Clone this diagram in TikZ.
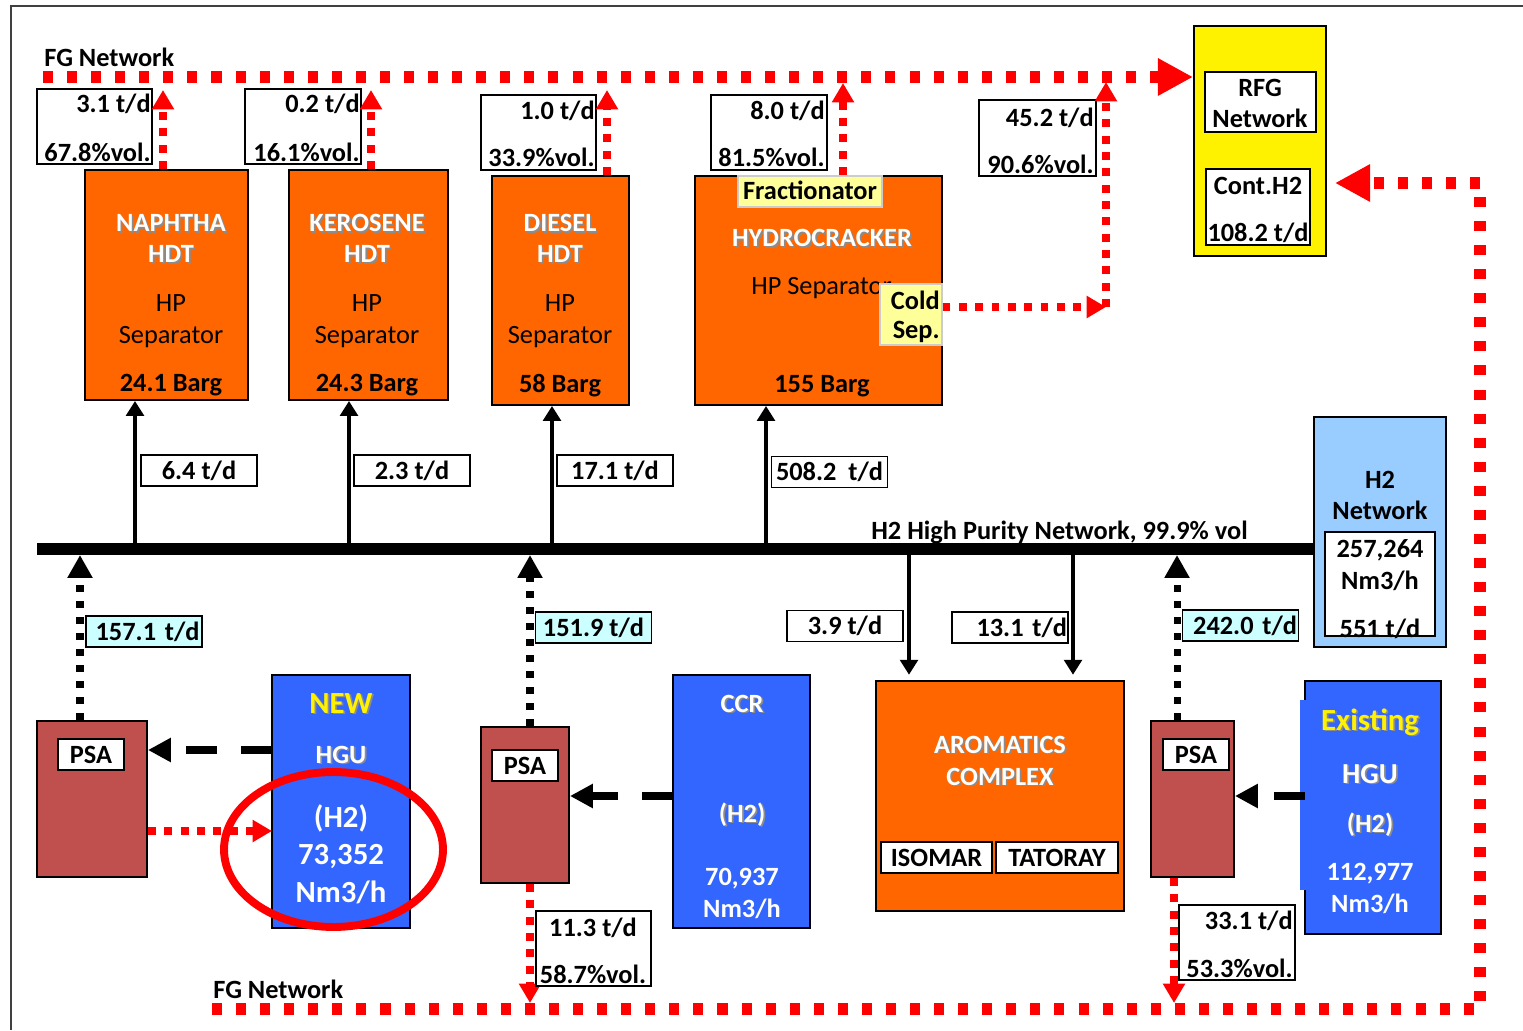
\documentclass[tikz,border=0pt]{standalone}
\usepackage{fontspec}
\setmainfont{Carlito}
\usepackage{tikz}
\usetikzlibrary{arrows.meta, positioning, fit, calc, shapes.geometric}

\definecolor{hdtorange}{HTML}{FF6600}
\definecolor{psabrown}{HTML}{C0504D}
\definecolor{hgublue}{HTML}{3366FF}
\definecolor{netblue}{HTML}{99CCFF}
\definecolor{flowcyan}{HTML}{CCFFFF}
\definecolor{paleyellow}{HTML}{FFFF99}

\newcommand{\shtext}[1]{\makebox[0pt][l]{\kern1pt\raisebox{-1pt}{\textcolor{black!45}{#1}}}#1}

\begin{document}
\begin{tikzpicture}[x=0.02cm, y=-0.02cm,
  every node/.style={font=\fontsize{15}{18}\selectfont\bfseries, inner sep=0pt},
  framebox/.style={rectangle, draw, line width=1.1pt},
  unitbox/.style={framebox, fill=hdtorange},
  psabox/.style={framebox, fill=psabrown},
  hgubox/.style={framebox, fill=hgublue},
  tagbox/.style={framebox, fill=white},
  notebox/.style={rectangle, draw=black!20, line width=0.6pt, fill=paleyellow},
  ratebox/.style={tagbox, minimum width=2.32cm, minimum height=0.62cm},
  cyanbox/.style={ratebox, fill=flowcyan},
  btxt/.style={anchor=base},
  wtxt/.style={anchor=base, text=white},
  ntxt/.style={anchor=base, font=\fontsize{15}{18}\selectfont},
  bigtxt/.style={anchor=base, text=white, font=\fontsize{17.5}{21}\selectfont\bfseries},
  busline/.style={line width=6.8pt},
  h2feed/.style={line width=2.8pt, -{Triangle[length=8.5pt,width=10pt]}},
  psaout/.style={line width=4pt, dash pattern=on 4pt off 5.1pt, -{Triangle[length=13pt,width=13.5pt]}},
  hgufeed/.style={line width=4pt, dash pattern=on 17.6pt off 13.7pt, -{Triangle[length=13pt,width=13pt]}},
  fgmain/.style={red, line width=6.3pt, dash pattern=on 5.7pt off 8pt, -{Triangle[length=20pt,width=20pt]}},
  fgarrow/.style={red, line width=4.3pt, dash pattern=on 4.5pt off 4.8pt, -{Triangle[length=11pt,width=12pt]}},
]
  \useasboundingbox (0,0) rectangle (1523,1030);
  \draw[line width=0.9pt, black!75] (11,1030) -- (11,6) -- (1523,6);

  % units on the H2 network
  \node[unitbox, fit={(85,170) (248,400)}] (nap) {};
  \node[unitbox, fit={(289,170) (448,400)}] (ker) {};
  \node[unitbox, fit={(492,176) (629,405)}] (die) {};
  \node[unitbox, fit={(695,176) (942,405)}] (hcr) {};

  \node[wtxt] (napA) at (171,232) {\shtext{NAPHTHA}};
  \node[wtxt] (napB) at (171,263) {\shtext{HDT}};
  \node[ntxt] (napC) at (171,312) {HP};
  \node[ntxt] (napD) at (171,343) {Separator};
  \node[btxt] (napE) at (171,391) {24.1 Barg};

  \node[wtxt] (kerA) at (367,232) {\shtext{KEROSENE}};
  \node[wtxt] (kerB) at (367,263) {\shtext{HDT}};
  \node[ntxt] (kerC) at (367,312) {HP};
  \node[ntxt] (kerD) at (367,343) {Separator};
  \node[btxt] (kerE) at (367,391) {24.3 Barg};

  \node[wtxt] (dieA) at (560,232) {\shtext{DIESEL}};
  \node[wtxt] (dieB) at (560,263) {\shtext{HDT}};
  \node[ntxt] (dieC) at (560,312) {HP};
  \node[ntxt] (dieD) at (560,343) {Separator};
  \node[btxt] (dieE) at (560,392) {58 Barg};

  \node[notebox, fit={(738,176) (882,207)}] (frac) {};
  \node[btxt] (fracT) at (810,200) {Fractionator};
  \node[wtxt] (hcrA) at (822,247) {\shtext{HYDROCRACKER}};
  \node[ntxt, anchor=base west] (hcrB) at (751,295) {HP Separator};
  \node[btxt] (hcrE) at (822,392) {155 Barg};
  \node[notebox, fit={(880,284) (942,345)}] (cold) {};
  \node[btxt, anchor=base east] (coldA) at (940,310) {Cold};
  \node[btxt, anchor=base east] (coldB) at (940,338) {Sep.};

  % off-gas tags
  \node[tagbox, fit={(37,89) (152,164)}] (napR) {};
  \node[btxt, anchor=base east] (napR1) at (151,113) {3.1 t/d};
  \node[btxt, anchor=base east] (napR2) at (151,162) {67.8\%vol.};
  \node[tagbox, fit={(245,89) (361,164)}] (kerR) {};
  \node[btxt, anchor=base east] (kerR1) at (360,113) {0.2 t/d};
  \node[btxt, anchor=base east] (kerR2) at (360,162) {16.1\%vol.};
  \node[tagbox, fit={(481,95) (596,170)}] (dieR) {};
  \node[btxt, anchor=base east] (dieR1) at (595,120) {1.0 t/d};
  \node[btxt, anchor=base east] (dieR2) at (595,167) {33.9\%vol.};
  \node[tagbox, fit={(711,95) (827,170)}] (hcrR) {};
  \node[btxt, anchor=base east] (hcrR1) at (825,120) {8.0 t/d};
  \node[btxt, anchor=base east] (hcrR2) at (825,167) {81.5\%vol.};
  \node[tagbox, fit={(979,100) (1096,176)}] (coldR) {};
  \node[btxt, anchor=base east] (coldR1) at (1094,127) {45.2 t/d};
  \node[btxt, anchor=base east] (coldR2) at (1094,174) {90.6\%vol.};

  % RFG
  \node[framebox, fill=yellow, fit={(1194,26) (1326,256)}] (rfg) {};
  \node[tagbox, fit={(1205,72) (1316,132)}] (rfgnet) {};
  \node[btxt] (rfgA) at (1260,97) {RFG};
  \node[btxt] (rfgB) at (1260,128) {Network};
  \node[tagbox, fit={(1206,169) (1310,245)}] (conth2) {};
  \node[btxt] (contA) at (1258,195) {Cont.H2};
  \node[btxt] (contB) at (1258,242) {108.2 t/d};

  % FG network
  \node[btxt, anchor=base west] (fgtopT) at (44,67) {FG Network};
  \node[btxt, anchor=base west] (fgbotT) at (213,998) {FG Network};
  \coordinate (fgtop) at (43,77);
  \coordinate (fgbot) at (212,1009);
  \coordinate (fgBR) at (1480,1009);
  \coordinate (fgTR) at (1480,183);
  \draw[fgmain] (fgtop) -- (rfg.west |- fgtop);
  \draw[fgmain] (fgbot) -- (fgBR) -- (fgTR) -- ([xshift=0.16cm]rfg.east |- fgTR);

  \coordinate (fgN) at (163,90);
  \coordinate (fgK) at (371,90);
  \coordinate (fgD) at (607,90);
  \coordinate (fgH) at (843,83);
  \coordinate (fgC) at (1106,82);
  \coordinate (coldj) at (1106,307);
  \draw[fgarrow] (nap.north -| fgN) -- (fgN);
  \draw[fgarrow] (ker.north -| fgK) -- (fgK);
  \draw[fgarrow] (die.north -| fgD) -- (fgD);
  \draw[fgarrow] (hcr.north -| fgH) -- (fgH);
  \draw[fgarrow] (cold.east |- coldj) -- (coldj);
  \draw[fgarrow] (coldj) -- (fgC);

  % H2 high purity network
  \node[framebox, fill=netblue, fit={(1314,417) (1446,647)}] (h2net) {};
  \node[btxt] (h2netA) at (1380,488) {H2};
  \node[btxt] (h2netB) at (1380,519) {Network};
  \node[tagbox, fit={(1325,532) (1435,636)}] (h2cap) {};
  \node[btxt] (h2capA) at (1380,557) {257,264};
  \node[btxt] (h2capB) at (1380,589) {Nm3/h};
  \node[btxt] (h2capC) at (1380,637) {551 t/d};

  \coordinate (busL) at (37,549);
  \draw[busline] (busL) -- (h2net.west |- busL);
  \node[btxt, anchor=base west] (busT) at (871,539) {H2 High Purity Network, 99.9\% vol};

  \coordinate (tapN) at (135,549);
  \coordinate (tapK) at (349,549);
  \coordinate (tapD) at (552,549);
  \coordinate (tapH) at (766,549);
  \coordinate (tapA) at (909,549);
  \coordinate (tapB) at (1073,549);
  \draw[h2feed] (tapN) -- (tapN |- nap.south);
  \draw[h2feed] (tapK) -- (tapK |- ker.south);
  \draw[h2feed] (tapD) -- (tapD |- die.south);
  \draw[h2feed] (tapH) -- (tapH |- hcr.south);

  \node[ratebox] (napF) at (199,470.5) {6.4 t/d};
  \node[ratebox] (kerF) at (412,470.5) {2.3 t/d};
  \node[ratebox] (dieF) at (615,470.5) {17.1 t/d};
  \node[ratebox] (hcrF) at (829.5,472) {508.2\ \ t/d};
  \node[ratebox] (aroF) at (845,626) {3.9 t/d};
  \node[ratebox, text width=2.28cm, align=right] (aroG) at (1010,627.5) {13.1 t/d};

  % aromatics
  \node[unitbox, fit={(876,681) (1124,911)}] (aro) {};
  \node[wtxt] (aroA) at (1000,753) {\shtext{AROMATICS}};
  \node[wtxt] (aroB) at (1000,785) {\shtext{COMPLEX}};
  \node[tagbox, minimum width=2.22cm, minimum height=0.62cm] (isomar) at (936.5,857.5) {ISOMAR};
  \node[tagbox, minimum width=2.44cm, minimum height=0.62cm] (tatoray) at (1057,857.5) {TATORAY};
  \draw[h2feed, shorten >=3pt] (tapA) -- (tapA |- aro.north);
  \draw[h2feed, shorten >=3pt] (tapB) -- (tapB |- aro.north);

  % hydrogen producers
  \node[psabox, fit={(37,721) (147,877)}] (psa1) {};
  \node[tagbox, minimum width=1.32cm, minimum height=0.62cm] (psa1L) at (91,754.5) {PSA};
  \node[psabox, fit={(481,727) (569,883)}] (psa2) {};
  \node[tagbox, minimum width=1.32cm, minimum height=0.62cm] (psa2L) at (525,765.5) {PSA};
  \node[psabox, fit={(1151,721) (1234,877)}] (psa3) {};
  \node[tagbox, minimum width=1.32cm, minimum height=0.62cm] (psa3L) at (1196,754.5) {PSA};

  \node[hgubox, fit={(272,675) (410,928)}] (newhgu) {};
  \node[bigtxt, text=yellow] (newA) at (341,713) {\shtext{NEW}};
  \node[wtxt] (newB) at (341,763) {\shtext{HGU}};
  \node[bigtxt] (newC) at (341,827) {(H2)};
  \node[bigtxt] (newD) at (341,864) {73,352};
  \node[bigtxt] (newE) at (341,902) {Nm3/h};
  \node[ellipse, draw=red, line width=4.5pt, minimum width=4.38cm, minimum height=3.1cm] (newmark) at (333.5,849.5) {};

  \node[hgubox, fit={(673,675) (810,928)}] (ccr) {};
  \node[wtxt] (ccrA) at (742,712) {\shtext{CCR}};
  \node[wtxt] (ccrB) at (742,822) {\shtext{(H2)}};
  \node[wtxt] (ccrC) at (742,885) {70,937};
  \node[wtxt] (ccrD) at (742,917) {Nm3/h};

  \node[hgubox, fit={(1305,681) (1441,934)}] (exhgu) {};
  \fill[hgublue] (1300,700) rectangle (1307,890);
  \node[bigtxt, text=yellow] (exA) at (1370,730) {\shtext{Existing}};
  \node[wtxt, font=\fontsize{16.5}{20}\selectfont\bfseries] (exB) at (1370,783) {\shtext{HGU}};
  \node[wtxt] (exC) at (1370,832) {\shtext{(H2)}};
  \node[wtxt] (exD) at (1370,880) {112,977};
  \node[wtxt] (exE) at (1370,912) {Nm3/h};

  \coordinate (newout) at (272,750);
  \coordinate (ccrout) at (673,796);
  \coordinate (exout) at (1305,796);
  \draw[hgufeed] (newout) -- (newout -| psa1.east);
  \draw[hgufeed] (ccrout) -- (ccrout -| psa2.east);
  \draw[hgufeed] (exout) -- (exout -| psa3.east);

  \coordinate (fgnew) at (272,831);
  \draw[fgarrow] (psa1.east |- fgnew) -- (fgnew);

  \coordinate (tapP) at (80,555);
  \coordinate (tapQ) at (530,555);
  \coordinate (tapR) at (1177,555);
  \draw[psaout] (psa1.north -| tapP) -- (tapP);
  \draw[psaout] (psa2.north -| tapQ) -- (tapQ);
  \draw[psaout] (psa3.north -| tapR) -- (tapR);
  \node[cyanbox, text width=2.22cm, align=right] (psa1F) at (144,631.5) {157.1 t/d};
  \node[cyanbox] (psa2F) at (593.5,627.5) {151.9 t/d};
  \node[cyanbox, text width=2.26cm, align=right] (psa3F) at (1240.5,625.5) {242.0 t/d};

  \coordinate (dropQ) at (530,1003);
  \coordinate (dropR) at (1174,1003);
  \draw[fgarrow] (psa2.south -| dropQ) -- (dropQ);
  \draw[fgarrow] (psa3.south -| dropR) -- (dropR);
  \node[tagbox, fit={(536,911) (651,986)}] (psa2R) {};
  \node[btxt] (psa2R1) at (593,936) {11.3 t/d};
  \node[btxt] (psa2R2) at (593,983) {58.7\%vol.};
  \node[tagbox, fit={(1179,905) (1295,980)}] (psa3R) {};
  \node[btxt, anchor=base east] (psa3R1) at (1293,929) {33.1 t/d};
  \node[btxt, anchor=base east] (psa3R2) at (1293,977) {53.3\%vol.};
\end{tikzpicture}
\end{document}
